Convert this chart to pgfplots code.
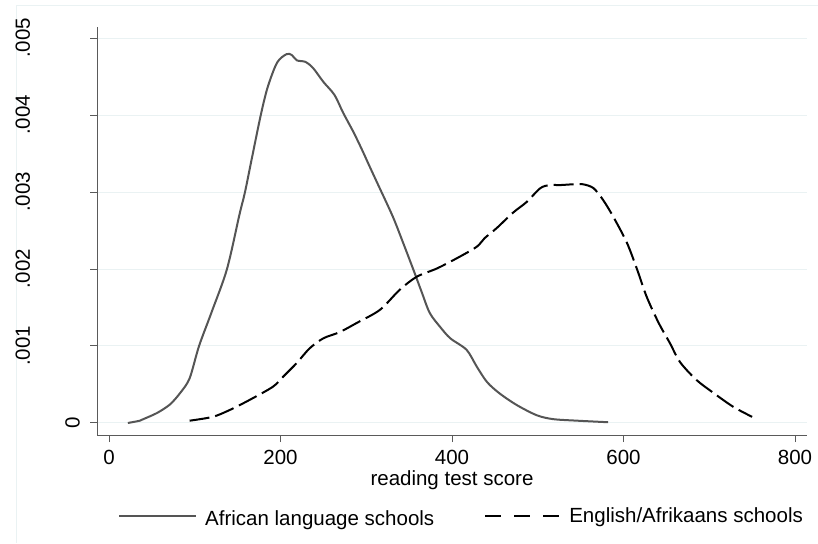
\documentclass[border=0pt]{standalone}
\usepackage{fontspec}
\setmainfont{Liberation Sans}
\usepackage{pgfplots}
\pgfplotsset{compat=1.18}
\definecolor{gridc}{HTML}{EAF2F3}
\definecolor{solidc}{HTML}{555555}
\definecolor{axisc}{HTML}{5A5A5A}
\newcommand\lab[1]{\rule[-50pt]{0pt}{50pt}#1}
\begin{document}
\begin{tikzpicture}[font=\fontsize{20.5}{24}\selectfont]
\useasboundingbox (0pt,0pt) rectangle (818pt,-543pt);
\draw[gridc, line width=1pt] (16pt,-543pt) -- (16pt,-6pt) -- (818pt,-6pt);
\begin{axis}[
  scale only axis, width=710pt, height=408pt,
  anchor=south west, at={(97pt,-435pt)},
  xmin=-14, xmax=814, ymin=-0.000156, ymax=0.005143,
  axis x line*=bottom, axis y line*=left,
  axis line style={axisc, line width=1pt, -},
  tick style={axisc, line width=1pt},
  tick align=outside, major tick length=7pt,
  xtick={0,200,400,600,800},
  ytick={0,0.001,0.002,0.003,0.004,0.005},
  scaled y ticks=false,
  yticklabels={0,\lab{.001},\lab{.002},\lab{.003},\lab{.004},\lab{.005}},
  ymajorgrids, major grid style={gridc, line width=1pt},
  /pgf/number format/assume math mode=true,
  xticklabel style={inner sep=0pt, anchor=north}, xticklabel shift=8pt,
  yticklabel style={rotate=90, anchor=south, inner sep=0pt}, yticklabel shift=10pt,
  xlabel={reading test score},
  xlabel style={at={(axis description cs:0.5,-0.111)}, anchor=center, inner sep=0pt},
  legend columns=2, legend cell align=left,
  legend style={draw=none, fill=none, inner sep=0pt, at={(axis description cs:0.0296,-0.198)}, anchor=west, nodes={inner sep=0pt},
    /tikz/every even column/.append style={column sep=50pt},
    /tikz/every odd column/.append style={column sep=8pt},
    /tikz/column 3/.append style={column sep=15pt}},
  legend image code/.code={\draw[#1] (0pt,0pt) -- (77pt,0pt);},
]
\addplot[solidc, line width=2pt, smooth] coordinates {
(22,0)(36,0.00003)(40,0.00005)(56,0.00013)(71,0.00024)(83,0.00039)(94,0.00058)(105,0.001)(120,0.00145)(137.6,0.002)(152,0.0027)(158.6,0.003)(167,0.00346)(177,0.004)(185,0.00436)(196,0.00468)(207,0.00479)(213,0.00478)(219,0.00471)(229,0.00469)(238,0.00461)(250,0.00443)(263,0.00426)(273,0.00403)(285,0.00378)(295,0.00355)(304,0.00333)(314,0.00309)(331,0.00268)(343,0.00234)(355,0.00199)(365,0.00169)(374,0.00143)(386,0.00125)(398,0.0011)(417,0.00095)(429,0.00073)(441,0.00053)(456,0.00038)(476,0.00023)(499,0.0001)(518,0.00005)(546,0.00003)(582,0.00001)
};
\addlegendentry{\raisebox{-6pt}{African language schools}}
\addplot[black, line width=2pt, dash pattern=on 20pt off 6pt, smooth,
  legend image code/.code={\draw[black, line width=2pt, dash pattern=on 16pt off 13pt] (0pt,0pt) -- (75pt,0pt);}] coordinates {
(94,0.00003)(121,0.00008)(141,0.00017)(164,0.0003)(191,0.00047)(203,0.0006)(219,0.00078)(234,0.00097)(250,0.0011)(269,0.00118)(289,0.0013)(316,0.00147)(339,0.00173)(359,0.0019)(383,0.00201)(409,0.00216)(429,0.00229)(438,0.0024)(452,0.00253)(471,0.00273)(487,0.00287)(503,0.00305)(514,0.00309)(526,0.00309)(541,0.0031)(553,0.0031)(565,0.00305)(576,0.0029)(588,0.00268)(604,0.00234)(616,0.00199)(627,0.00164)(641,0.0013)(654,0.00104)(666,0.00079)(685,0.00056)(705,0.00039)(728,0.00021)(750,0.00008)
};
\addlegendentry{English/Afrikaans schools}
\end{axis}
\end{tikzpicture}
\end{document}
